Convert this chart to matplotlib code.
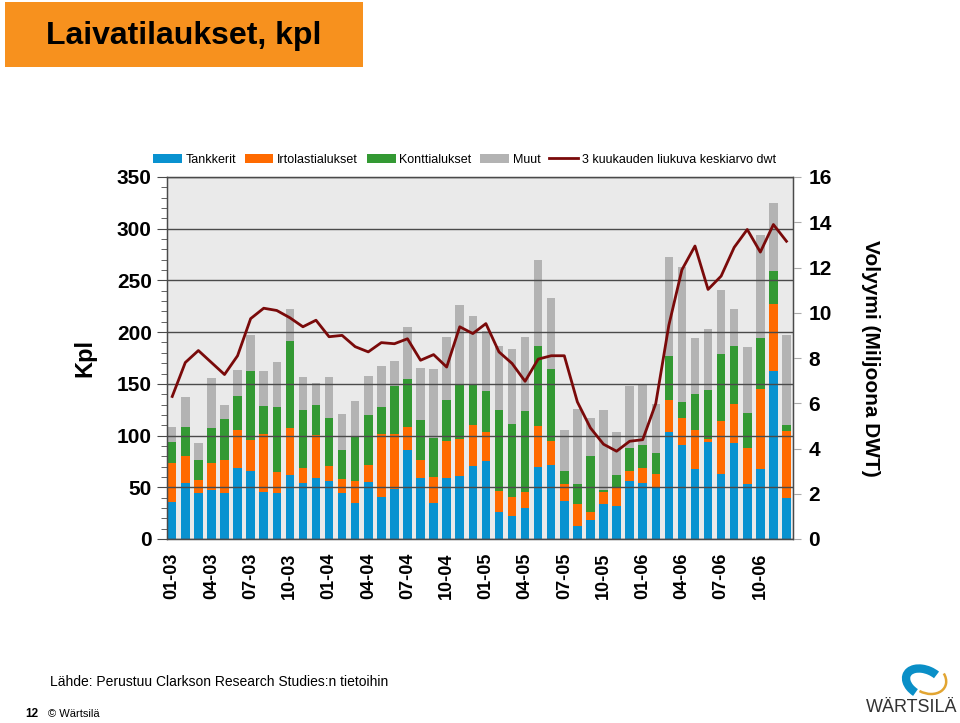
import matplotlib
matplotlib.use("Agg")
import matplotlib.pyplot as plt
import numpy as np
from matplotlib.patches import Rectangle, Arc, Patch
from matplotlib.lines import Line2D
from matplotlib.ticker import MultipleLocator

plt.rcParams['font.family'] = ['Liberation Sans', 'DejaVu Sans']

years = ["03", "04", "05", "06"]
months = [f"{m:02d}-{y}" for y in years for m in range(1, 13)]
tick_labels = ["01-03", "04-03", "07-03", "10-03", "01-04", "04-04", "07-04", "10-04",
               "01-05", "04-05", "07-05", "10-05", "01-06", "04-06", "07-06", "10-06"]

tankkerit = [36, 54, 44, 47, 44, 69, 66, 45, 44, 62, 54, 59,
             56, 44, 35, 55, 41, 48, 86, 59, 35, 59, 61, 71,
             75, 26, 22, 30, 70, 72, 37, 13, 18, 34, 32, 56,
             54, 50, 103, 91, 68, 94, 63, 93, 53, 68, 162, 40]
irtolasti = [37, 26, 13, 26, 32, 36, 30, 57, 21, 45, 15, 42,
             15, 14, 21, 17, 61, 54, 22, 17, 25, 36, 36, 39,
             28, 20, 19, 15, 39, 23, 16, 21, 8, 11, 18, 10,
             15, 13, 31, 26, 37, 3, 51, 38, 35, 77, 65, 64]
kontti = [21, 28, 19, 34, 40, 33, 66, 27, 63, 84, 56, 29,
          46, 28, 43, 48, 26, 46, 47, 39, 38, 39, 53, 39,
          40, 79, 70, 79, 78, 69, 13, 19, 54, 2, 12, 22,
          22, 20, 43, 15, 35, 47, 65, 56, 34, 49, 32, 6]
muut = [14, 29, 17, 49, 14, 25, 35, 33, 43, 31, 32, 21,
        40, 35, 34, 38, 39, 24, 50, 50, 66, 61, 76, 67,
        58, 62, 73, 71, 83, 69, 39, 73, 37, 78, 41, 60,
        59, 48, 96, 131, 54, 59, 62, 35, 64, 100, 66, 87]
dwt_avg = [6.3, 7.8, 8.33, 7.8, 7.27, 8.1, 9.74, 10.2, 10.1, 9.78, 9.38, 9.67,
           8.94, 9.0, 8.5, 8.27, 8.68, 8.63, 8.85, 7.9, 8.15, 7.6, 9.38, 9.08,
           9.52, 8.27, 7.76, 6.97, 7.95, 8.1, 8.1, 6.06, 4.91, 4.19, 3.88, 4.32,
           4.39, 5.99, 9.45, 11.9, 12.95, 11.03, 11.62, 12.89, 13.68, 12.68, 13.9, 13.16]

series = [("Tankkerit", tankkerit, "#0992D0"),
          ("Irtolastialukset", irtolasti, "#FF6A00"),
          ("Konttialukset", kontti, "#339933"),
          ("Muut", muut, "#B3B3B3")]
line_color = "#7A0A0A"
grid_color = "#4A4A4A"

fig = plt.figure(figsize=(9.6, 7.23), dpi=100)
fig.patch.set_facecolor("white")

ax = fig.add_axes([167/960, 1-539/723, (793-167)/960, (539-177)/723])
ax.set_facecolor("#EAEAEA")
x = np.arange(len(months))
bottom = np.zeros(len(months))
for name, vals, col in series:
    v = np.array(vals, dtype=float)
    ax.bar(x, v, bottom=bottom, width=0.65, color=col, zorder=2, linewidth=0)
    bottom += v

ax.set_ylim(0, 350)
ax.set_xlim(-0.4, 47.5)
ax.yaxis.set_major_locator(MultipleLocator(50))
ax.yaxis.set_minor_locator(MultipleLocator(10))
ax.grid(axis='y', which='major', color=grid_color, linewidth=1.0, zorder=3)
ax.set_axisbelow(False)
for s in ax.spines.values():
    s.set_color(grid_color)
    s.set_linewidth(1.0)
ax.tick_params(axis='y', which='major', length=7, color=grid_color, labelsize=15, pad=4)
ax.tick_params(axis='y', which='minor', length=4, color=grid_color)
for lab in ax.get_yticklabels():
    lab.set_fontweight('bold')
tick_pos = [months.index(t) for t in tick_labels]
ax.set_xticks(tick_pos)
ax.set_xticklabels(tick_labels, rotation=90, fontsize=13, fontweight='bold')
ax.tick_params(axis='x', length=0, pad=10)
ax.set_ylabel("Kpl", fontsize=17, fontweight='bold', labelpad=15)

ax2 = ax.twinx()
ax2.set_ylim(0, 16)
ax2.yaxis.set_major_locator(MultipleLocator(2))
ax2.plot(x, dwt_avg, color=line_color, linewidth=2.0, zorder=5)
ax2.tick_params(axis='y', length=6, color="#AAAAAA", labelsize=15, pad=5)
for lab in ax2.get_yticklabels():
    lab.set_fontweight('bold')
for s in ax2.spines.values():
    s.set_color(grid_color)
ax2.set_ylabel("Volyymi (Miljoona DWT)", fontsize=15, fontweight='bold',
               rotation=-90, labelpad=35)

handles = [Patch(facecolor=c, edgecolor='none') for _, _, c in series]
handles.append(Line2D([0], [0], color=line_color, linewidth=2))
labels = [n for n, _, _ in series] + ["3 kuukauden liukuva keskiarvo dwt"]
ax.legend(handles, labels, loc='lower center', bbox_to_anchor=(0.475, 1.0), ncol=5,
          frameon=False, fontsize=9, handlelength=2.3, handleheight=0.7,
          handletextpad=0.3, columnspacing=0.7, borderaxespad=0.5)

# overlay for decorations in pixel coordinates
ov = fig.add_axes([0, 0, 1, 1], zorder=-1)
ov.set_xlim(0, 960)
ov.set_ylim(723, 0)
ov.axis('off')
ov.add_patch(Rectangle((5, 2), 358, 65, facecolor="#F7911E", edgecolor='none'))
ov.text(184, 36, "Laivatilaukset, kpl", fontsize=23, fontweight='bold',
        ha='center', va='center', color='black')
ov.text(50, 682, "Lähde: Perustuu Clarkson Research Studies:n tietoihin",
        fontsize=10, ha='left', va='center')
ov.text(25, 714, "12", fontsize=8.5, fontweight='bold', ha='left', va='center')
ov.text(48, 714, "© Wärtsilä", fontsize=8, ha='left', va='center')
# logo
ov.add_patch(Arc((925, 683), 40, 26, angle=25, theta1=110, theta2=300,
                 color="#0A8FC7", linewidth=6))
ov.add_patch(Arc((927, 678), 40, 30, angle=25, theta1=-40, theta2=95,
                 color="#E2A532", linewidth=1.8))
ov.text(912, 707, "WÄRTSILÄ", fontsize=13, ha='center', va='center', color="#333333")

fig.savefig("out.png", dpi=100)
